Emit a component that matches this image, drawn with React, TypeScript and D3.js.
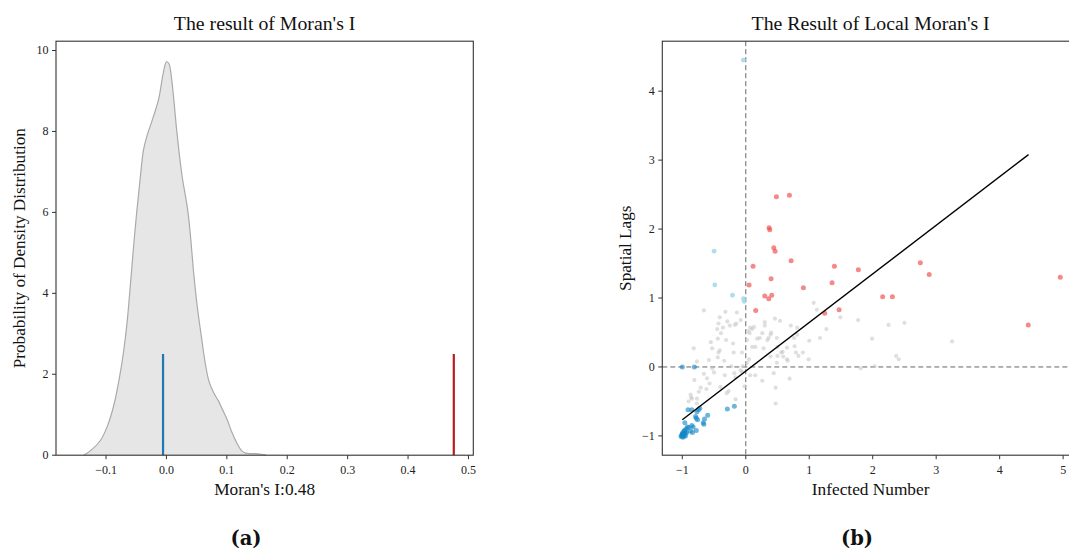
import React from "react";
import * as d3 from "d3";

// density of simulated Moran's I
const densityX = [-0.137, -0.125, -0.109, -0.097, -0.087, -0.078, -0.071, -0.065, -0.059, -0.052, -0.0437, -0.038, -0.0326, -0.0217, -0.0127, -0.0055, 0, 0.004, 0.0088, 0.017, 0.0253, 0.036, 0.0457, 0.051, 0.059, 0.064, 0.07, 0.078, 0.0865, 0.093, 0.1, 0.108, 0.117, 0.124, 0.131, 0.145, 0.155, 0.165];
const densityY = [0, 0.12, 0.37, 0.75, 1.24, 1.9, 2.55, 3.3, 4.33, 5.56, 6.8, 7.54, 7.87, 8.36, 8.81, 9.42, 9.72, 9.68, 9.27, 8.03, 6.96, 5.97, 4.41, 3.68, 2.81, 2.3, 1.85, 1.55, 1.33, 1.12, 0.9, 0.58, 0.29, 0.12, 0.05, 0.04, 0.03, 0];
const expectedI = -0.0056;
const observedI = 0.4757;
const markerHeight = 2.5;
const densityTicks = [-0.1, 0, 0.1, 0.2, 0.3, 0.4, 0.5];
const densityYTicks = [0, 2, 4, 6, 8, 10];

// local Moran scatter: [z, lag]
const hh = [[0.483, 2.47], [0.688, 2.49], [0.367, 2.02], [0.378, 1.99], [0.441, 1.73], [0.462, 1.68], [0.714, 1.54], [0.115, 1.46], [1.396, 1.46], [1.774, 1.41], [2.75, 1.51], [2.89, 1.34], [4.955, 1.3], [0.052, 1.19], [0.399, 1.28], [1.36, 1.22], [0.908, 1.15], [0.299, 1.03], [0.409, 1.04], [0.362, 0.99], [2.157, 1.02], [2.31, 1.02], [0.157, 0.82], [1.47, 0.83], [1.244, 0.78], [4.45, 0.61]];
const lh = [[-0.037, 4.45], [-0.499, 1.68], [-0.488, 1.19], [-0.21, 1.04], [-0.037, 0.99], [-0.025, 0.95]];
const ll = [[-1.0, 0.0], [-0.81, 0.0], [-0.29, -0.61], [-0.18, -0.57], [-0.91, -0.62], [-0.85, -0.62], [-0.745, -0.62], [-0.725, -0.6], [-0.77, -0.65], [-0.6, -0.7], [-0.79, -0.72], [-0.78, -0.745], [-0.76, -0.765], [-0.65, -0.755], [-0.67, -0.81], [-0.66, -0.83], [-0.96, -0.81], [-0.85, -0.85], [-0.83, -0.87], [-0.92, -0.87], [-0.9, -0.88], [-0.78, -0.92], [-0.87, -0.93], [-0.84, -0.95], [-0.97, -0.92], [-0.95, -0.96], [-1.0, -0.98], [-0.98, -1.0], [-1.02, -1.01], [-1.0, -0.97], [-0.95, -1.0], [-0.99, -0.95], [-1.01, -0.99], [-0.97, -0.99], [-0.99, -1.02], [-0.96, -0.93], [-0.93, -0.95], [-0.98, -0.96], [-1.0, -1.0], [-0.94, -0.9]];
const ns = [[-0.66, 0.82], [-0.32, 0.8], [-0.14, 0.79], [-0.41, 0.72], [-0.29, 0.66], [-0.08, 0.68], [-0.15, 0.63], [-0.17, 0.61], [-0.25, 0.6], [-0.43, 0.63], [-0.36, 0.57], [-0.45, 0.55], [-0.39, 0.49], [-0.44, 0.41], [-0.31, 0.39], [-0.55, 0.36], [-0.2, 0.34], [-0.53, 0.27], [-0.82, 0.27], [-0.41, 0.24], [-0.43, 0.21], [-0.19, 0.21], [-0.06, 0.21], [-0.34, 0.09], [-0.44, 0.14], [-0.58, 0.1], [-0.77, 0.08], [-0.5, -0.08], [-0.53, -0.02], [-0.66, -0.1], [-0.33, -0.12], [-0.18, -0.09], [-0.16, -0.15], [-0.06, -0.07], [-0.61, -0.165], [-0.81, -0.19], [-0.71, -0.3], [-0.62, -0.32], [-0.57, -0.24], [-0.4, -0.29], [-0.27, -0.35], [-0.3, -0.38], [-0.16, -0.47], [-0.74, -0.36], [-0.87, -0.4], [-0.86, -0.44], [-0.85, -0.46], [-0.77, -0.46], [-0.9, -0.5], [-0.77, -0.53], [-0.23, 0.01], [-0.08, -0.05], [-0.05, 0.01], [-0.02, -0.28], [0.02, 0.06], [0.05, 0.11], [0.07, -0.12], [0.15, 0.29], [0.02, 0.39], [0.06, 0.49], [0.1, 0.55], [0.07, 0.57], [0.04, 0.52], [0.22, 0.42], [0.26, 0.49], [0.3, 0.65], [0.3, 0.6], [0.36, 0.42], [0.34, 0.39], [0.39, 0.47], [0.46, 0.7], [0.54, 0.67], [0.49, 0.42], [0.5, 0.29], [0.56, 0.21], [0.59, 0.15], [0.49, 0.06], [0.44, -0.09], [0.26, -0.2], [0.47, -0.3], [0.47, -0.53], [0.69, -0.17], [0.65, 0.11], [0.71, 0.6], [0.76, 0.42], [0.81, 0.47], [0.79, 0.21], [0.83, 0.16], [0.9, 0.21], [1.0, 0.38], [0.99, 0.11], [1.07, 0.93], [1.12, 0.83], [1.27, 0.55], [1.17, 0.42], [1.49, 0.72], [1.77, 0.68], [1.99, 0.41], [2.25, 0.61], [2.5, 0.64], [2.37, 0.16], [2.41, 0.11], [3.25, 0.37], [1.81, -0.02], [2.03, 0.01], [0.81, 0.57], [0.13, 0.58], [0.4, 0.5], [0.18, 0.41], [0.65, 0.28], [0.58, 0.22], [0.77, 0.3], [0.1, 0.29], [0.28, 0.27], [0.39, 0.15], [0.5, 0.16], [0.66, 0.09], [0.15, -0.12]];
const fitLine = [[-1.0, -0.765], [4.455, 3.08]];
const scatterXTicks = [-1, 0, 1, 2, 3, 4, 5];
const scatterYTicks = [-1, 0, 1, 2, 3, 4];

const FONT = "'Liberation Serif', 'Times New Roman', serif";
const AX = "#333";

function App() {
  // left panel
  const L = { left: 56, right: 473.3, top: 41.2, bottom: 455.2 };
  const xa = d3.scaleLinear().domain([-0.1828, 0.508]).range([L.left, L.right]);
  const ya = d3.scaleLinear().domain([0, 10.23]).range([L.bottom, L.top]);
  const dens = densityX.map((x, i) => [x, densityY[i]]);
  const area = d3.area<number[]>().x(d => xa(d[0])).y0(ya(0)).y1(d => ya(d[1])).curve(d3.curveCatmullRom);
  const line = d3.line<number[]>().x(d => xa(d[0])).y(d => ya(d[1])).curve(d3.curveCatmullRom);

  // right panel
  const R = { left: 662.3, right: 1079, top: 41.2, bottom: 455.2 };
  const xb = d3.scaleLinear().domain([-1.315, 5.25]).range([R.left, R.right]);
  const yb = d3.scaleLinear().domain([-1.28, 4.725]).range([R.bottom, R.top]);
  const fit = d3.line<number[]>().x(d => xb(d[0])).y(d => yb(d[1]));

  const dots = (pts: number[][], fill: string, op: number, r: number, key: string) =>
    pts.map((d, i) => <circle key={key + i} cx={xb(d[0])} cy={yb(d[1])} r={r} fill={fill} opacity={op} />);

  return (
    <svg width={1069} height={552} style={{ position: "absolute", left: 0, top: 0, background: "#fff" }} fontFamily={FONT}>
      {/* ---- (a) ---- */}
      <path d={area(dens) || ""} fill="#e6e6e6" />
      <path d={line(dens) || ""} fill="none" stroke="#aaaaaa" strokeWidth={1.2} />
      <line x1={xa(expectedI)} x2={xa(expectedI)} y1={ya(0)} y2={ya(markerHeight)} stroke="#1f77b4" strokeWidth={2.2} />
      <line x1={xa(observedI)} x2={xa(observedI)} y1={ya(0)} y2={ya(markerHeight)} stroke="#b81c1c" strokeWidth={2.2} />
      <rect x={L.left} y={L.top} width={L.right - L.left} height={L.bottom - L.top} fill="none" stroke={AX} strokeWidth={1.1} />
      {densityTicks.map(t => (
        <g key={"xa" + t}>
          <line x1={xa(t)} x2={xa(t)} y1={L.bottom} y2={L.bottom + 4} stroke={AX} />
          <text x={xa(t)} y={474} fontSize={12} textAnchor="middle" fill="#222">{d3.format(".1f")(t).replace("-", "\u2212")}</text>
        </g>
      ))}
      {densityYTicks.map(t => (
        <g key={"ya" + t}>
          <line x1={L.left - 4} x2={L.left} y1={ya(t)} y2={ya(t)} stroke={AX} />
          <text x={L.left - 7.5} y={ya(t)} dy="0.33em" fontSize={12} textAnchor="end" fill="#222">{t}</text>
        </g>
      ))}
      <text x={(L.left + L.right) / 2} y={29.5} fontSize={19.8} textAnchor="middle" fill="#111">The result of Moran's I</text>
      <text x={(L.left + L.right) / 2} y={495} fontSize={17.3} textAnchor="middle" fill="#111">Moran's I:0.48</text>
      <text transform={`translate(25,${(L.top + L.bottom) / 2}) rotate(-90)`} fontSize={17.2} textAnchor="middle" fill="#111">Probability of Density Distribution</text>
      <text x={246} y={538} dy="0.35em" fontSize={19.5} fontWeight="bold" textAnchor="middle" fontFamily="'DejaVu Serif', serif" fill="#111">(a)</text>

      {/* ---- (b) ---- */}
      <line x1={xb(0)} x2={xb(0)} y1={R.top} y2={R.bottom} stroke="#666" strokeDasharray="5,3" strokeWidth={1} />
      <line x1={R.left} x2={R.right} y1={yb(0)} y2={yb(0)} stroke="#666" strokeDasharray="5,3" strokeWidth={1} />
      {dots(ns, "#c4c4c4", 0.55, 2.1, "ns")}
      {dots(lh, "#9fd8ea", 0.85, 2.4, "lh")}
      {dots(ll, "#1487c6", 0.62, 2.5, "ll")}
      {dots(hh, "#f04848", 0.65, 2.5, "hh")}
      <path d={fit(fitLine) || ""} stroke="#000" strokeWidth={1.4} fill="none" />
      <rect x={R.left} y={R.top} width={R.right - R.left} height={R.bottom - R.top} fill="none" stroke={AX} strokeWidth={1.1} />
      {scatterXTicks.map(t => (
        <g key={"xb" + t}>
          <line x1={xb(t)} x2={xb(t)} y1={R.bottom} y2={R.bottom + 4} stroke={AX} />
          <text x={xb(t)} y={474} fontSize={12} textAnchor="middle" fill="#222">{String(t).replace("-", "\u2212")}</text>
        </g>
      ))}
      {scatterYTicks.map(t => (
        <g key={"yb" + t}>
          <line x1={R.left - 4} x2={R.left} y1={yb(t)} y2={yb(t)} stroke={AX} />
          <text x={R.left - 7.5} y={yb(t)} dy="0.33em" fontSize={12} textAnchor="end" fill="#222">{String(t).replace("-", "\u2212")}</text>
        </g>
      ))}
      <text x={(R.left + R.right) / 2} y={29.5} fontSize={19.8} textAnchor="middle" fill="#111">The Result of Local Moran's I</text>
      <text x={(R.left + R.right) / 2} y={495} fontSize={17.3} textAnchor="middle" fill="#111">Infected Number</text>
      <text transform={`translate(631,${(R.top + R.bottom) / 2}) rotate(-90)`} fontSize={17.2} textAnchor="middle" fill="#111">Spatial Lags</text>
      <text x={857} y={538} dy="0.35em" fontSize={19.5} fontWeight="bold" textAnchor="middle" fontFamily="'DejaVu Serif', serif" fill="#111">(b)</text>
    </svg>
  );
}

export default App;
